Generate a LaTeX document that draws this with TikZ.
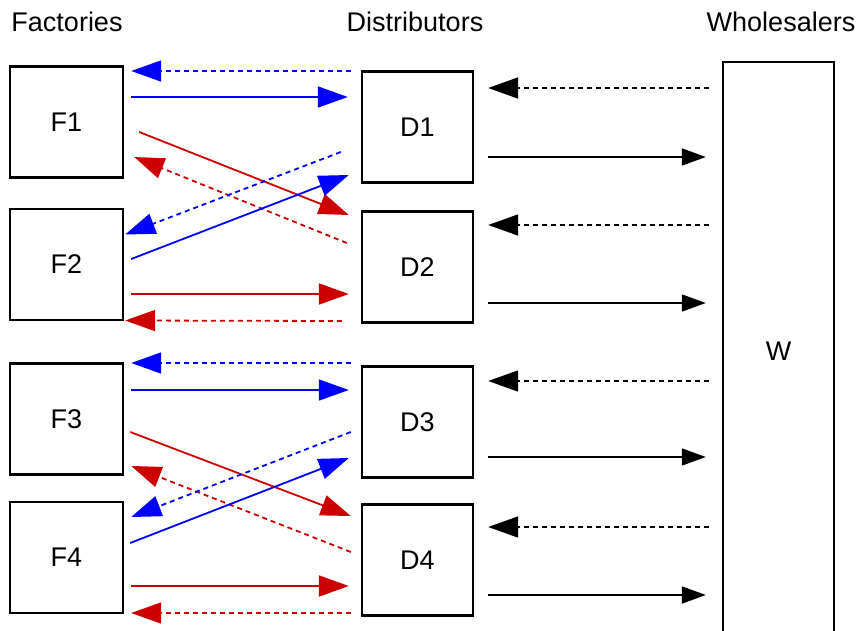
\documentclass[tikz,border=0pt]{standalone}
\usepackage{fontspec}
\setmainfont{Liberation Sans}
\usetikzlibrary{arrows.meta,calc}
\definecolor{flowred}{RGB}{204,0,0}

\begin{document}
\begin{tikzpicture}[x=1pt,y=-1pt,
  box/.style={draw, line width=2.4pt, inner sep=0pt, minimum width=111pt,
    minimum height=111pt, font=\fontsize{27}{31}\selectfont},
  title/.style={anchor=base, font=\fontsize{27}{31}\selectfont},
  flow/.style={line width=1.8pt, -{Triangle[length=30pt,width=21pt]}},
  ret/.style={flow, dash pattern=on 5pt off 4pt},
  ship/.style={line width=1.8pt, -{Triangle[length=24pt,width=17pt]}}]
  \useasboundingbox (0,0) rectangle (856,631);

  % column headings
  \node[title] (fac) at (67,32) {Factories};
  \node[title] (dis) at (415,32) {Distributors};
  \node[title] (who) at (781,32) {Wholesalers};

  % factories and distributors
  \node[box, minimum width=113pt] (F1) at (66.5,122) {F1};
  \node[box, minimum width=113pt] (F2) at (66.5,264.5) {F2};
  \node[box, minimum width=113pt] (F3) at (66.5,419) {F3};
  \node[box, minimum width=113pt] (F4) at (66.5,557.5) {F4};
  \node[box] (D1) at (417.5,127) {D1};
  \node[box] (D2) at (417.5,267) {D2};
  \node[box] (D3) at (417.5,422) {D3};
  \node[box] (D4) at (417.5,560) {D4};

  % wholesaler runs off the bottom
  \node[box, minimum height=578pt] (W) at (778.5,351) {W};

  % F1/F2 <-> D1/D2
  \draw[ret, blue] ($(D1.west)+(-10,-56)$) -- ($(F1.east)+(7,-51)$);
  \draw[flow, blue] ($(F1.east)+(7,-25)$) -- ($(D1.west)+(-13,-30)$);
  \draw[flow, flowred] ($(F1.east)+(15,10)$) -- ($(D2.west)+(-12,-52)$);
  \draw[ret, flowred] ($(D2.west)+(-14,-24)$) -- ($(F1.east)+(10,35)$);
  \draw[ret, blue] ($(D1.west)+(-20,25)$) -- ($(F2.east)+(1,-30)$);
  \draw[flow, blue] ($(F2.east)+(7,-5.5)$) -- ($(D1.west)+(-12,48)$);
  \draw[flow, flowred] ($(F2.east)+(7,29.5)$) -- ($(D2.west)+(-12,27)$);
  \draw[ret, flowred] ($(D2.west)+(-19,54)$) -- ($(F2.east)+(1,56)$);

  % F3/F4 <-> D3/D4
  \draw[ret, blue] ($(D3.west)+(-10,-59)$) -- ($(F3.east)+(7,-56)$);
  \draw[flow, blue] ($(F3.east)+(7,-29)$) -- ($(D3.west)+(-12,-32)$);
  \draw[flow, flowred] ($(F3.east)+(6,13)$) -- ($(D4.west)+(-10,-44)$);
  \draw[ret, flowred] ($(D4.west)+(-10,-8)$) -- ($(F3.east)+(7,47)$);
  \draw[ret, blue] ($(D3.west)+(-10,10)$) -- ($(F4.east)+(7,-40.5)$);
  \draw[flow, blue] ($(F4.east)+(6,-14.5)$) -- ($(D3.west)+(-12,36)$);
  \draw[flow, flowred] ($(F4.east)+(7,28.5)$) -- ($(D4.west)+(-12,26)$);
  \draw[ret, flowred] ($(D4.west)+(-10,53)$) -- ($(F4.east)+(7,55.5)$);

  % distributors <-> wholesaler
  \foreach \d/\u/\s in {D1/-39/30, D2/-42/36, D3/-41/35, D4/-33/35} {
    \draw[ret] ($(W.west |- \d.east)+(-13,\u)$) -- ($(\d.east)+(14,\u)$);
    \draw[ship] ($(\d.east)+(14,\s)$) -- ($(W.west |- \d.east)+(-16,\s)$);
  }
\end{tikzpicture}
\end{document}
